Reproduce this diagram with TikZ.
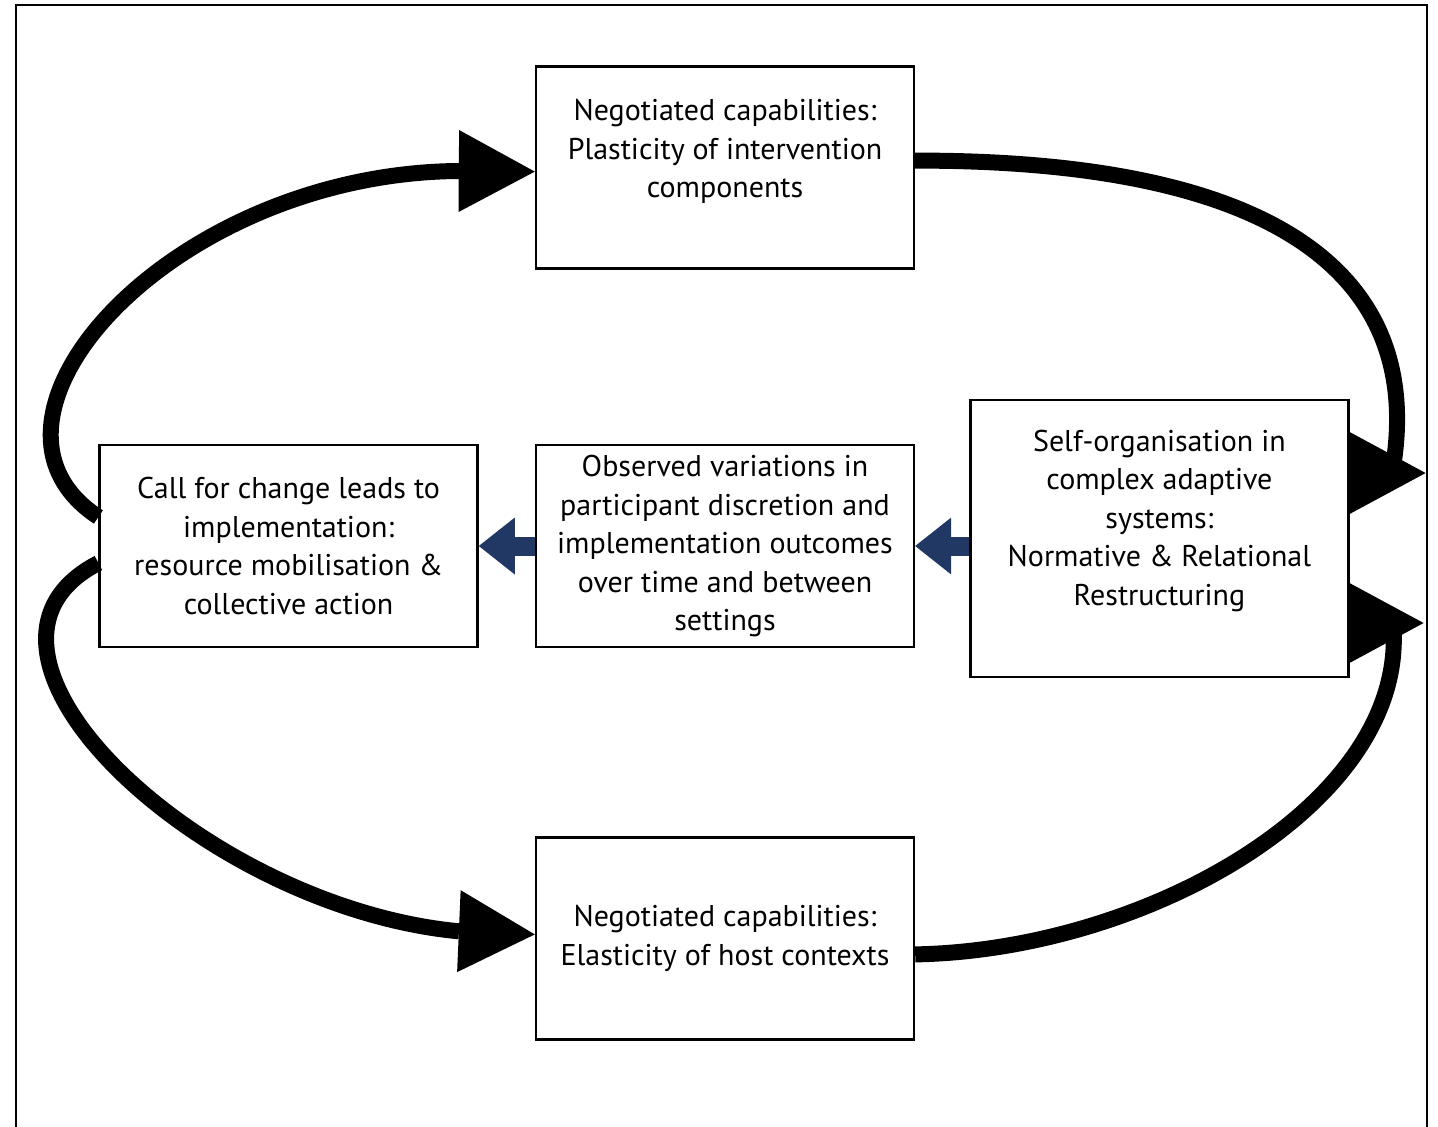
\documentclass[tikz,border=0pt]{standalone}
\usepackage{fontspec}
\setmainfont{PT Sans}
\usepackage{tikz}
\usetikzlibrary{arrows.meta,positioning}
\definecolor{flowblue}{RGB}{33,56,100}

\begin{document}
\begin{tikzpicture}[x=0.5pt,y=-0.5pt,
    stage/.style={draw,line width=1.2pt,minimum width=189pt,minimum height=101pt,align=center,font=\fontsize{15pt}{19.25pt}\selectfont},
    bigarrow/.style={line width=8pt,-{Triangle[length=38pt,width=41pt,line width=0pt]}},
    flow/.style={draw=flowblue,line width=9.5pt,-{Triangle[length=18pt,width=28.5pt,line width=0pt]}}]

\def\lift#1{\rule[-#1]{0pt}{0pt}}

\useasboundingbox (0,0) rectangle (1438,1126);
\draw[line width=1pt] (16,1140) -- (16,5) -- (1427,5) -- (1427,1140);

\node[stage] (obs) at (725,546) {Observed variations in\\participant discretion and\\implementation outcomes\\over time and between\\settings};
\node[stage] (call) [left=28pt of obs] {Call for change leads to\\implementation:\\resource mobilisation \&\\collective action};
\node[stage,minimum height=138.5pt] (selforg) [right=27pt of obs,yshift=3.75pt] {Self-organisation in\\complex adaptive\\systems:\\Normative \& Relational\\Restructuring\lift{21pt}};
\node[stage] (plast) [above=87pt of obs] {Negotiated capabilities:\\Plasticity of intervention\\components\lift{19pt}};
\node[stage] (elast) [below=94pt of obs] {Negotiated capabilities:\\Elasticity of host contexts};

\coordinate (uptip) at ([xshift=38pt,yshift=32.75pt]selforg.east);
\coordinate (lowtip) at ([xshift=37pt,yshift=-42.25pt]selforg.east);

\draw[flow] (obs.west) -- (call.east);
\draw[flow] (obs.east -| selforg.west) -- (obs.east);

\draw[bigarrow] ([yshift=14.5pt]call.west) .. controls (-50,420) and (170,175) .. (456,171) -- ([yshift=-2pt]plast.west);
\draw[bigarrow] ([yshift=3.5pt]plast.east) .. controls (1300,160) and (1425,290) .. (1392,473) -- (uptip);
\draw[bigarrow] ([yshift=-8pt]elast.east) .. controls (1150,950) and (1410,800) .. (1393,623) -- (lowtip);
\draw[bigarrow] ([yshift=-8.5pt]call.west) .. controls (-70,650) and (200,905) .. (456,931) -- ([yshift=2pt]elast.west);

\end{tikzpicture}
\end{document}
